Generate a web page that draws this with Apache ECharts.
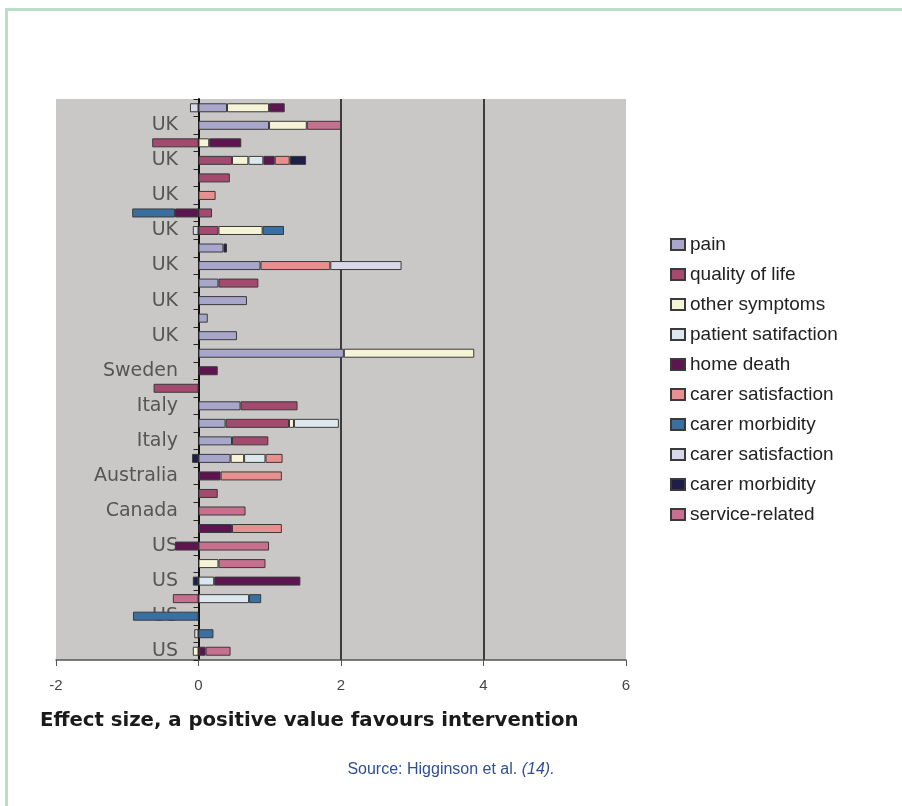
<!DOCTYPE html>
<html>
<head>
<meta charset="utf-8">
<script src="https://cdn.jsdelivr.net/npm/echarts@6/dist/echarts.min.js"></script>
<style>
html,body{margin:0;padding:0;background:#fff;}
#chart{width:902px;height:806px;}
</style>
</head>
<body>
<div id="chart"></div>
<script>
// Rows top to bottom (only every other label is displayed, as in the reference)
const categories = ['UK','UK','UK','UK','UK','UK','UK','UK','UK','UK','UK','UK','UK','UK','Sweden','Sweden',
  'Italy','Italy','Italy','Italy','Australia','Australia','Canada','Canada','US','US','US','US','US','US','US','US'];
const xTicks = [-2, 0, 2, 4, 6];
const refLines = [2, 4];

const pain            = [0.40,0.99,null,null,null,null,null,null,0.35,0.87,0.28,0.68,0.13,0.54,2.04,null,null,0.59,0.38,0.47,0.45,null,null,null,null,null,null,null,null,null,null,null];
const qualityOfLife   = [null,null,-0.65,0.47,0.44,null,0.19,0.28,null,null,0.56,null,null,null,null,null,-0.63,0.80,0.89,0.51,null,null,0.27,null,null,null,null,null,null,null,null,null];
const otherSymptoms   = [0.59,0.53,0.15,0.23,null,null,null,0.62,null,null,null,null,null,null,1.83,null,null,null,0.07,null,0.19,null,null,null,null,null,0.28,null,null,null,null,-0.08];
const patientSatif    = [null,null,null,0.21,null,null,null,null,null,null,null,null,null,null,null,null,null,null,0.63,null,0.30,null,null,null,null,null,null,0.22,0.71,null,null,null];
const homeDeath       = [0.22,null,0.45,0.16,null,null,-0.33,null,null,null,null,null,null,null,null,0.27,null,null,null,null,null,0.31,null,null,0.47,-0.33,null,1.21,null,null,null,0.10];
const carerSatA       = [null,null,null,0.21,null,0.24,null,null,null,0.98,null,null,null,null,null,null,null,null,null,null,0.24,0.86,null,null,0.70,null,null,null,null,null,null,null];
const carerMorbA      = [null,null,null,null,null,null,-0.60,0.30,null,null,null,null,null,null,null,null,null,null,null,null,null,null,null,null,null,null,null,null,0.17,-0.92,0.21,null];
const carerSatB       = [-0.12,null,null,null,null,null,null,-0.08,null,1.00,null,null,null,null,null,null,null,null,null,null,null,null,null,null,null,null,null,null,null,null,-0.06,null];
const carerMorbB      = [null,null,null,0.23,null,null,null,null,0.05,null,null,null,null,null,null,null,null,null,null,null,-0.09,null,null,null,null,null,null,-0.08,null,null,null,null];
const serviceRelated  = [null,0.48,null,null,null,null,null,null,null,null,null,null,null,null,null,null,null,null,null,null,null,null,null,0.66,null,0.99,0.66,null,-0.36,null,null,0.35];

const seriesNames = ['pain','quality of life','other symptoms','patient satifaction','home death',
  'carer satisfaction','carer morbidity','carer satisfaction ','carer morbidity ','service-related'];
const seriesData = [pain,qualityOfLife,otherSymptoms,patientSatif,homeDeath,carerSatA,carerMorbA,carerSatB,carerMorbB,serviceRelated];
const colors = ['#a9a6cb','#a34a6e','#f6f4d6','#dde8ee','#5e1450','#e8908f','#3a6fa2','#d8d8e8','#1e1e48','#c66f8e'];

const series = seriesNames.map((n,i)=>({
  name:n, type:'bar', stack:'all', data:seriesData[i], barWidth:9,
  itemStyle:{color:colors[i], borderColor:'#3a3a3a', borderWidth:1},
  emphasis:{disabled:true}
}));
series[0].markLine = {
  silent:true, symbol:'none', z:1, label:{show:false},
  lineStyle:{color:'#3c3c3c', width:2, type:'solid'},
  data: refLines.map(v=>({xAxis:v}))
};

const chart = echarts.init(document.getElementById('chart'));
chart.setOption({
  animation:false,
  backgroundColor:'#ffffff',
  color:colors,
  grid:{left:56,right:276,top:99,bottom:146,show:true,backgroundColor:'#c9c8c6',borderWidth:0,
        containLabel:false, outerBoundsMode:'none'},
  legend:{
    orient:'vertical', left:665, top:230, itemWidth:14, itemHeight:11, itemGap:11, icon:'rect',
    textStyle:{fontFamily:'Liberation Sans', fontSize:19, color:'#222'},
    data:seriesNames
  },
  xAxis:{
    type:'value', min:xTicks[0], max:xTicks[xTicks.length-1], interval:2,
    axisLine:{show:true,lineStyle:{color:'#555',width:1.5}},
    axisTick:{show:true,length:6,lineStyle:{color:'#555'}},
    splitLine:{show:false},
    axisLabel:{fontFamily:'Liberation Sans',fontSize:15,color:'#444',margin:18}
  },
  yAxis:{
    type:'category', inverse:true, data:categories,
    axisLine:{show:true,onZero:true,lineStyle:{color:'#111',width:2}},
    axisTick:{show:true,interval:0,length:5,lineStyle:{color:'#222'}},
    axisLabel:{interval:(i)=>i%2===1, fontFamily:'DejaVu Sans', fontSize:19, color:'#555', margin:-122}
  },
  graphic:[
    {type:'rect', shape:{x:5,y:8,width:897,height:3}, style:{fill:'#b9dfc8'}},
    {type:'rect', shape:{x:5,y:8,width:3,height:798}, style:{fill:'#b9dfc8'}},
    {type:'text', left:40, top:711, style:{text:'Effect size, a positive value favours intervention', font:'bold 19.7px "DejaVu Sans"', fill:'#1a1a1a'}},
    {type:'text', left:'center', top:762, style:{
      text:'{a|Source: Higginson et al. }{b|(14).}',
      rich:{a:{fontFamily:'Liberation Sans',fontSize:16,fill:'#2f4f93'},b:{fontFamily:'Liberation Sans',fontSize:16,fontStyle:'italic',fill:'#2f4f93'}}
    }}
  ],
  series:series
});
</script>
</body>
</html>
